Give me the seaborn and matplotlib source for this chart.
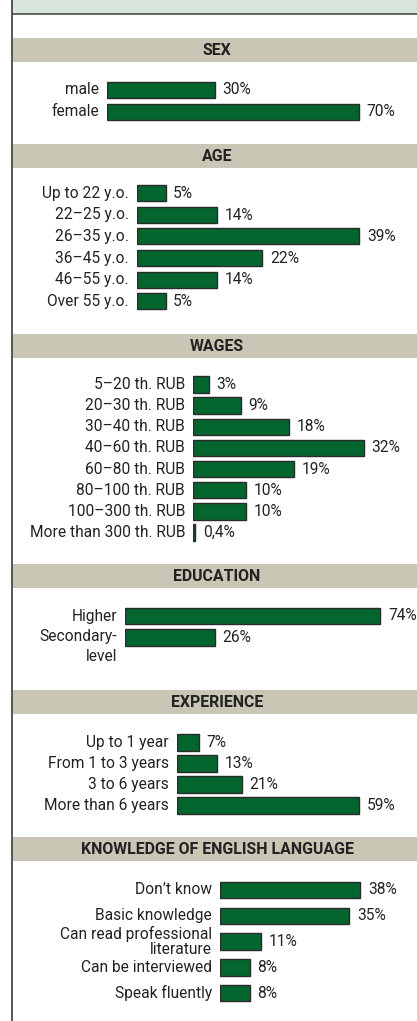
import matplotlib
matplotlib.use("Agg")
import matplotlib.pyplot as plt
from matplotlib.patches import Rectangle
import seaborn as sns

# ---- data ----
sex_labels = ["male", "female"]
sex_values = [30, 70]

age_labels = ["Up to 22 y.o.", "22–25 y.o.", "26–35 y.o.", "36–45 y.o.", "46–55 y.o.", "Over 55 y.o."]
age_values = [5, 14, 39, 22, 14, 5]

wage_labels = ["5–20 th. RUB", "20–30 th. RUB", "30–40 th. RUB", "40–60 th. RUB",
               "60–80 th. RUB", "80–100 th. RUB", "100–300 th. RUB", "More than 300 th. RUB"]
wage_values = [3, 9, 18, 32, 19, 10, 10, 0.4]

edu_labels = ["Higher", "Secondary-\nlevel"]
edu_values = [74, 26]

exp_labels = ["Up to 1 year", "From 1 to 3 years", "3 to 6 years", "More than 6 years"]
exp_values = [7, 13, 21, 59]

eng_labels = ["Don’t know", "Basic knowledge", "Can read professional\nliterature",
              "Can be interviewed", "Speak fluently"]
eng_values = [38, 35, 11, 8, 8]

section_titles = ["SEX", "AGE", "WAGES", "EDUCATION", "EXPERIENCE", "KNOWLEDGE OF ENGLISH LANGUAGE"]

# ---- style ----
sns.set_theme(style="white")
plt.rcParams["font.family"] = ["Roboto", "DejaVu Sans"]

W, H = 417, 1021
GREEN = "#05652f"
EDGE = "#2a2a2a"
BAND = "#c9c6b6"
TOP_BAND = "#d9e6dc"
BORDER = "#4a4a4a"
TEXT = "#222222"
FS = 11.2

fig = plt.figure(figsize=(W / 100, H / 100), dpi=100)
fig.patch.set_facecolor("white")

# page frame and section header bands
bg = fig.add_axes([0, 0, 1, 1])
bg.set_xlim(0, W)
bg.set_ylim(H, 0)
bg.axis("off")
bg.add_patch(Rectangle((12, 0), W - 12, 14.5, color=TOP_BAND, lw=0))
bg.plot([12, W], [14.5, 14.5], color=BORDER, lw=1.2, solid_capstyle="butt")
bg.plot([12, 12], [0, H], color=BORDER, lw=1.3, solid_capstyle="butt")

header_tops = [38, 144, 334, 564, 690, 837]
for top, title in zip(header_tops, section_titles):
    bg.add_patch(Rectangle((13, top), W - 13, 24, color=BAND, lw=0))
    bg.text(217, top + 12.5, title, ha="center", va="center", fontsize=11.4,
            fontweight="bold", color=TEXT)

# layout per section: bar origin (px), px per percent, first/last row centre (px), bar height (px)
sections = [
    (sex_labels, sex_values, 107, 3.60, 90, 112, 16),
    (age_labels, age_values, 137, 5.70, 193.5, 301, 16),
    (wage_labels, wage_values, 193, 5.33, 384.5, 532.5, 16.5),
    (edu_labels, edu_values, 125, 3.45, 616, 637.5, 16.5),
    (exp_labels, exp_values, 177, 3.08, 742.5, 805.5, 16.5),
    (eng_labels, eng_values, 220, 3.69, 890, 993, 16.5),
]

for labels, values, x0, scale, c_first, c_last, bar_h in sections:
    n = len(values)
    pitch = (c_last - c_first) / (n - 1)
    y_top = c_first - pitch / 2
    y_bot = c_last + pitch / 2
    ax = fig.add_axes([x0 / W, 1 - y_bot / H, (W - x0) / W, (y_bot - y_top) / H])
    sns.barplot(x=values, y=labels, order=labels, orient="h", color=GREEN,
                saturation=1, edgecolor=EDGE, linewidth=1.0,
                width=bar_h / pitch, ax=ax)
    ax.set_xlim(0, (W - x0) / scale)
    ax.set_ylim(n - 0.5, -0.5)
    ax.axis("off")
    vals_txt = [f"{v:g}%".replace(".", ",") for v in values]
    ax.bar_label(ax.containers[0], labels=vals_txt, padding=5.5, fontsize=FS, color=TEXT)
    for i, lab in enumerate(labels):
        if lab.startswith("Secondary"):
            ax.annotate(lab, xy=(0, i), xycoords=("axes fraction", "data"),
                        xytext=(-8, 9), textcoords="offset pixels",
                        ha="right", va="top", fontsize=FS, color=TEXT,
                        linespacing=1.45, multialignment="right",
                        annotation_clip=False)
        else:
            ax.annotate(lab, xy=(0, i), xycoords=("axes fraction", "data"),
                        xytext=(-8, 0), textcoords="offset pixels",
                        ha="right", va="center", fontsize=FS, color=TEXT,
                        linespacing=1.0, multialignment="right",
                        annotation_clip=False)

fig.savefig("out.png", dpi=100, facecolor="white")
